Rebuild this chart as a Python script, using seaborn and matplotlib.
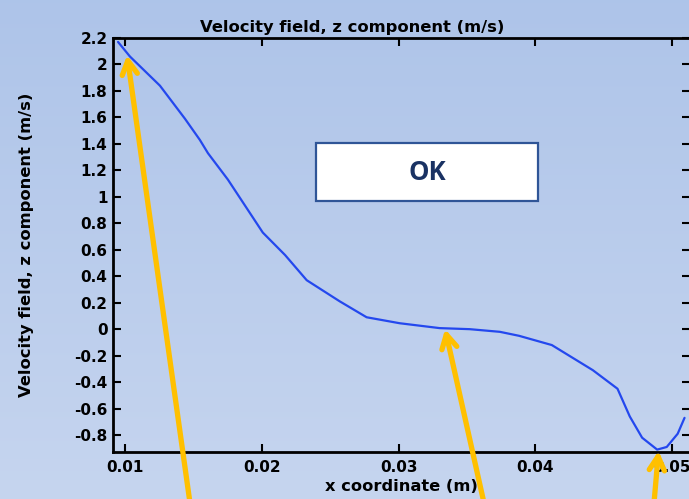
import numpy as np
import pandas as pd
import matplotlib
matplotlib.use("Agg")
import matplotlib.pyplot as plt
from matplotlib.patches import FancyBboxPatch
import seaborn as sns

# curve
x_coord = [0.00949, 0.01036, 0.01255, 0.01438, 0.01547, 0.01606, 0.01752, 0.02007,
           0.0217, 0.02328, 0.0257, 0.02766, 0.03007, 0.0330, 0.0352, 0.0374, 0.0388,
           0.0412, 0.0442, 0.0460, 0.0469, 0.0478, 0.0489, 0.0496, 0.0504, 0.0509]
vz = [2.17, 2.06, 1.84, 1.59, 1.43, 1.33, 1.13, 0.73,
      0.56, 0.37, 0.21, 0.09, 0.045, 0.008, 0.0, -0.02, -0.05,
      -0.12, -0.31, -0.45, -0.66, -0.82, -0.91, -0.89, -0.79, -0.67]

x_ticks = [0.01, 0.02, 0.03, 0.04, 0.05]
x_ticklabels = ["0.01", "0.02", "0.03", "0.04", "0.05"]
y_ticks = [-0.8, -0.6, -0.4, -0.2, 0, 0.2, 0.4, 0.6, 0.8, 1, 1.2, 1.4, 1.6, 1.8, 2, 2.2]
y_ticklabels = ["-0.8", "-0.6", "-0.4", "-0.2", "0", "0.2", "0.4", "0.6", "0.8",
                "1", "1.2", "1.4", "1.6", "1.8", "2", "2.2"]

# arrow tips (data) and tails (figure pixels, from bottom-left)
arrow_tips = [(0.01015, 2.07), (0.0334, 0.0), (0.0490, -0.92)]
arrow_tails = [(190, -4), (484, -4), (654, -4)]

title = "Velocity field, z component (m/s)"
xlabel = "x coordinate (m)"
ylabel = "Velocity field, z component (m/s)"

sns.set_style("ticks")
plt.rcParams['font.family'] = ['DejaVu Sans']
plt.rcParams['text.color'] = 'black'
plt.rcParams['axes.labelcolor'] = 'black'

df = pd.DataFrame({'x': x_coord, 'vz': vz})

fig = plt.figure(figsize=(6.89, 4.99), dpi=100)

# gradient background
bg = fig.add_axes([0, 0, 1, 1], zorder=-10)
grad = np.linspace(0, 1, 256).reshape(-1, 1)
top = np.array([0.682, 0.769, 0.914])
bot = np.array([0.776, 0.835, 0.937])
img = top + (bot - top) * grad[:, :, None]
bg.imshow(img, aspect='auto', extent=[0, 1, 0, 1])
bg.axis('off')

ax = fig.add_axes([113 / 689, 47 / 499, 577 / 689, 414 / 499])
ax.patch.set_alpha(0)

sns.lineplot(data=df, x='x', y='vz', ax=ax, color='#2448ee', linewidth=1.6, sort=False)

ax.set_xlim(0.00912, 0.05130)
ax.set_ylim(-0.928, 2.2)
ax.set_xticks(x_ticks)
ax.set_xticklabels(x_ticklabels, fontweight='bold', fontsize=11, color='black')
ax.set_yticks(y_ticks)
ax.set_yticklabels(y_ticklabels, fontweight='bold', fontsize=11, color='black')
ax.tick_params(axis='both', direction='in', length=6, width=1.5, pad=4,
               top=True, right=True, colors='black')
ax.tick_params(axis='x', pad=6)
for s in ax.spines.values():
    s.set_linewidth(2)
    s.set_color('black')

ax.set_title(title, fontweight='bold', fontsize=11.8, pad=4, color='black',
             x=(352 - 113) / 577)
ax.set_xlabel(xlabel, fontweight='bold', fontsize=11.7, color='black')
ax.set_ylabel(ylabel, fontweight='bold', fontsize=11.8, color='black')
ax.xaxis.set_label_coords(0.5, -0.066)
ax.yaxis.set_label_coords(-0.137, 0.5)

# OK box
box = FancyBboxPatch((316 / 689, 298 / 499), 222 / 689, 58 / 499,
                     boxstyle='square,pad=0', transform=fig.transFigure,
                     facecolor='white', edgecolor='#2f5597', linewidth=1.6, zorder=5)
fig.patches.append(box)
fig.text(427 / 689, 327 / 499, "OK", ha='center', va='center', fontsize=18.5,
         fontweight='bold', color='#1a3263', family=['Open Sans', 'DejaVu Sans'], zorder=6)

# orange arrows
for tip, tail in zip(arrow_tips, arrow_tails):
    ax.annotate('', xy=tip, xycoords='data', xytext=tail, textcoords='figure pixels',
                arrowprops=dict(arrowstyle='->,head_length=1.0,head_width=0.55',
                                color='#ffc000', lw=3.8, shrinkA=0, shrinkB=0),
                annotation_clip=False, zorder=7)

fig.savefig("out.png", dpi=100)
